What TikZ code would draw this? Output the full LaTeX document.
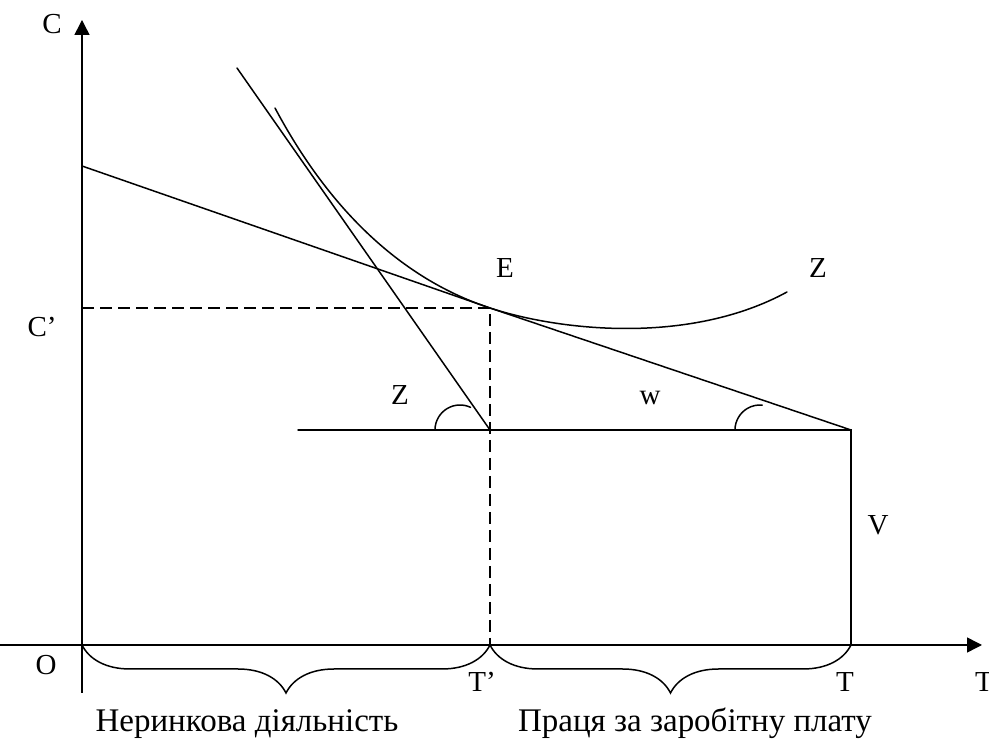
\documentclass[tikz,border=0pt]{standalone}
\usepackage{fontspec}
\setmainfont{Liberation Serif}
\usetikzlibrary{arrows.meta,decorations.pathreplacing}
\begin{document}
\begin{tikzpicture}[x=1pt,y=1pt,
  ln/.style={line width=1.5pt,line cap=round},
  ax/.style={line width=1.5pt,-{Triangle[length=15pt,width=15pt]}},
  dsh/.style={line width=1.5pt,dash pattern=on 12pt off 6pt},
  lbl/.style={font=\fontsize{29}{32}\selectfont,inner sep=0pt},
  big/.style={font=\fontsize{33}{38}\selectfont,inner sep=0pt,anchor=base},
  brc/.style={line width=1.5pt,decorate,decoration={brace,mirror,amplitude=48pt}}]
\useasboundingbox (0,0) rectangle (989,741);
% points
\coordinate (yb) at (82,48);
\coordinate (yt) at (82,721);
\coordinate (xl) at (0,96);
\coordinate (xr) at (982,96);
\coordinate (O) at (82,96);
\coordinate (E) at (490,433);
\coordinate (Cp) at (82,433);
\coordinate (bs) at (82,575);
\coordinate (TV) at (851,311);
\coordinate (Tx) at (851,96);
\coordinate (Tp) at (490,311);
\coordinate (Tpx) at (490,96);
\coordinate (hs) at (298,311);
\coordinate (st) at (237,673);
\coordinate (zs) at (275,633);
\coordinate (ze) at (787,449);
\coordinate (a1) at (435,311);
\coordinate (a2) at (735,311);
% axes
\draw[ax] (yb) -- (yt);
\draw[ax] (xl) -- (xr);
% dashed
\draw[dsh] (Cp) -- (E) -- (Tpx);
% lines
\draw[ln] (bs) -- (E) -- (TV);
\draw[ln] (hs) -- (TV) -- (Tx);
\draw[ln] (st) -- (Tp);
\draw[ln] (zs) .. controls (340,511) and (420,456) .. (E)
             .. controls (560,410) and (690,396) .. (ze);
% angle arcs
\draw[ln] (a1) arc (180:65:25);
\draw[ln] (a2) arc (180:85:25);
% braces
\draw[brc] (O) -- (Tpx);
\draw[brc] (Tpx) -- (Tx);
% labels
\node[lbl] (lC) at (52,717) {C};
\node[lbl] (lCp) at (42,414) {C’};
\node[lbl] (lO) at (46,76) {O};
\node[lbl] (lE) at (505,473) {E};
\node[lbl] (lZ1) at (818,473) {Z};
\node[lbl] (lZ2) at (400,346) {Z};
\node[lbl] (lw) at (650,343) {w};
\node[lbl] (lV) at (878,216) {V};
\node[lbl] (lTp) at (482,59) {T’};
\node[lbl] (lT) at (845,59) {T};
\node[lbl] (lT2) at (984,59) {T};
\node[big] (n1) at (247,9) {Неринкова діяльність};
\node[big] (n2) at (695,9) {Праця за заробітну плату};
\end{tikzpicture}
\end{document}
